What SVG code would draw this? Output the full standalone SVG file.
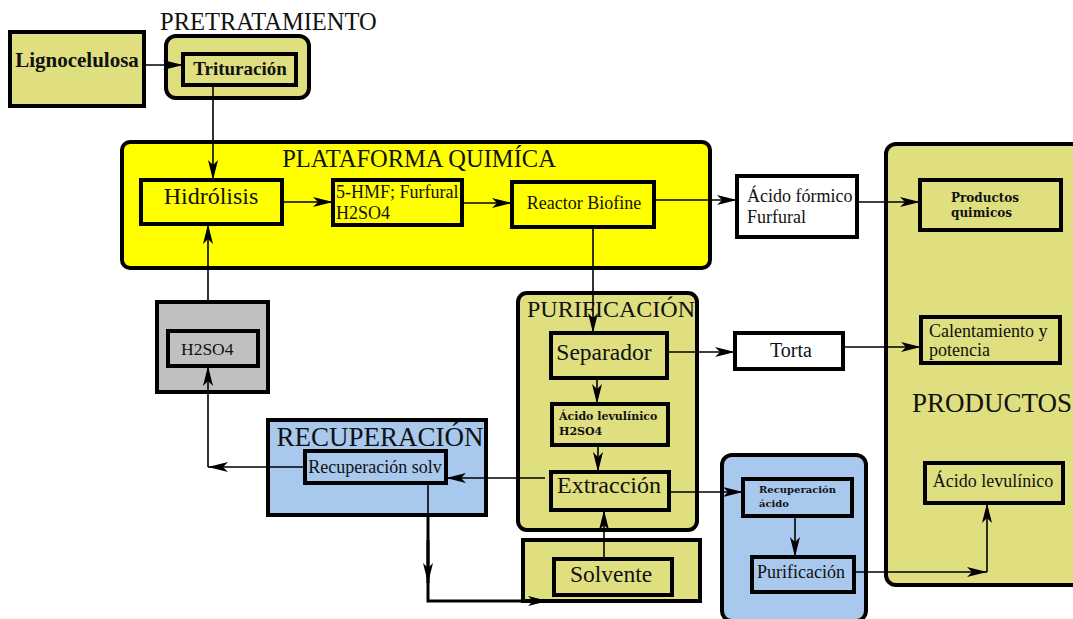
<svg xmlns="http://www.w3.org/2000/svg" width="1073" height="619" viewBox="0 0 1073 619">
<defs>
<marker id="ah" viewBox="0 0 20 10" refX="20" refY="5" markerWidth="20" markerHeight="10" markerUnits="userSpaceOnUse" orient="auto">
<path d="M0,0 L20,5 L0,10 L5,5 Z" fill="#000"/>
</marker>
</defs>
<style>
text{font-family:"Liberation Serif","DejaVu Serif",serif;fill:#111}
.g{fill:#dfdf80;stroke:#000;stroke-width:4}
.y{fill:#ffff00;stroke:#000;stroke-width:4}
.b{fill:#a8c8ee;stroke:#000;stroke-width:4}
.gr{fill:#c0c0c0;stroke:#000;stroke-width:4}
.w{fill:#fff;stroke:#000;stroke-width:4}
.c{fill:none;stroke:#000;stroke-width:1.6}
.bd{font-weight:bold}
.dv{font-family:"DejaVu Serif","Liberation Serif",serif;font-weight:bold}
</style>
<rect width="1073" height="619" fill="#fff"/>

<g id="lignocelulosa"><rect class="g" x="10" y="32" width="134" height="74"/><text x="77" y="67" font-size="21" class="bd" text-anchor="middle">Lignocelulosa</text></g>

<g id="pretratamiento"><text x="160" y="30" font-size="24.5">PRETRATAMIENTO</text><rect class="g" x="166" y="36" width="143" height="62" rx="10"/></g>
<g id="trituracion"><rect class="g" x="183" y="54" width="113" height="31"/><text x="240" y="75" font-size="19" class="bd" text-anchor="middle">Trituración</text></g>

<g id="plataforma"><rect class="y" x="122" y="142" width="588" height="126" rx="8"/><text x="419" y="167" font-size="24.5" text-anchor="middle">PLATAFORMA QUIMÍCA</text></g>
<g id="hidrolisis"><rect class="y" x="141" y="180" width="141" height="44"/><text x="211" y="204" font-size="24" text-anchor="middle">Hidrólisis</text></g>
<g id="hmf"><rect class="y" x="333" y="180" width="129" height="45"/><text x="336" y="198" font-size="18">5-HMF; Furfural</text><text x="336" y="219" font-size="18">H2SO4</text></g>
<g id="reactor"><rect class="y" x="512" y="182" width="142" height="45"/><text x="584" y="209" font-size="18" text-anchor="middle">Reactor Biofine</text></g>

<g id="acidoformico"><rect class="w" x="737" y="176" width="120" height="61"/><text x="747" y="202" font-size="18">Ácido fórmico</text><text x="747" y="223" font-size="18">Furfural</text></g>

<g id="productos"><rect class="g" x="886" y="144" width="200" height="441" rx="10"/><text x="912" y="412" font-size="27">PRODUCTOS</text></g>
<g id="productosquimicos"><rect class="g" x="920" y="180" width="141" height="50"/><text x="951" y="202" font-size="12" class="dv">Productos</text><text x="951" y="217" font-size="12" class="dv">quimicos</text></g>
<g id="calentamiento"><rect class="g" x="921" y="317" width="139" height="46"/><text x="929" y="337" font-size="18">Calentamiento y</text><text x="929" y="356" font-size="18">potencia</text></g>
<g id="acidolevulinico2"><rect class="g" x="925" y="463" width="138" height="40"/><text x="993" y="487" font-size="18" text-anchor="middle">Ácido levulínico</text></g>

<g id="torta"><rect class="w" x="735" y="333" width="108" height="36"/><text x="791" y="357" font-size="20" text-anchor="middle">Torta</text></g>

<g id="h2so4"><rect class="gr" x="157" y="302" width="111" height="90"/><rect class="gr" x="168" y="331" width="90" height="35"/><text x="181" y="355" font-size="17.5">H2SO4</text></g>

<g id="recuperacion"><rect class="b" x="268" y="420" width="218" height="95"/><text x="380" y="446" font-size="27" text-anchor="middle">RECUPERACIÓN</text></g>
<g id="recuperacionsolv"><rect class="b" x="305" y="451" width="141" height="32"/><text x="375" y="473" font-size="18" text-anchor="middle">Recuperación solv</text></g>

<g id="purificacionbox"><rect class="g" x="518" y="293" width="179" height="237" rx="9"/><text x="611" y="317" font-size="24" text-anchor="middle">PURIFICACIÓN</text></g>
<g id="separador"><rect class="g" x="551" y="333" width="116" height="45"/><text x="604" y="360" font-size="23.5" text-anchor="middle">Separador</text></g>
<g id="acidolevulinico"><rect class="g" x="552" y="404" width="116" height="41"/><text x="559" y="420" font-size="11" class="dv">Ácido levulínico</text><text x="559" y="435" font-size="11" class="dv">H2SO4</text></g>
<g id="extraccion"><rect class="g" x="551" y="472" width="118" height="38"/><text x="609" y="493" font-size="24" text-anchor="middle">Extracción</text></g>

<g id="solvente"><rect class="g" x="523" y="540" width="177" height="61"/><rect class="g" x="554" y="559" width="118" height="36"/><text x="611" y="582" font-size="23.5" text-anchor="middle">Solvente</text></g>

<g id="acidbox"><rect class="b" x="722" y="455" width="144" height="166" rx="10"/></g>
<g id="recuperacionacido"><rect class="b" x="743" y="479" width="109" height="37"/><text x="759" y="493" font-size="10" class="dv">Recuperación</text><text x="759" y="507" font-size="10" class="dv">ácido</text></g>
<g id="purificacion"><rect class="b" x="752" y="557" width="102" height="35"/><text x="801" y="578" font-size="18" text-anchor="middle">Purificación</text></g>

<g id="connectors">
<path class="c" d="M144,65 H183" marker-end="url(#ah)"/>
<path class="c" d="M213,85 V180" marker-end="url(#ah)"/>
<path class="c" d="M282,202 H333" marker-end="url(#ah)"/>
<path class="c" d="M462,203 H512" marker-end="url(#ah)"/>
<path class="c" d="M654,200 H737" marker-end="url(#ah)"/>
<path class="c" d="M857,202 H920" marker-end="url(#ah)"/>
<path class="c" d="M593,227 V333" marker-end="url(#ah)"/>
<path class="c" d="M667,352 H735" marker-end="url(#ah)"/>
<path class="c" d="M843,347 H921" marker-end="url(#ah)"/>
<path class="c" d="M597,378 V404" marker-end="url(#ah)"/>
<path class="c" d="M598,445 V472" marker-end="url(#ah)"/>
<path class="c" d="M604,559 V510" marker-end="url(#ah)"/>
<path class="c" d="M669,492 H743" marker-end="url(#ah)"/>
<path class="c" d="M795,516 V557" marker-end="url(#ah)"/>
<path class="c" d="M854,572 H987" marker-end="url(#ah)"/>
<path class="c" d="M987,572 V503" marker-end="url(#ah)"/>
<path class="c" d="M545,478 H446" marker-end="url(#ah)"/>
<path class="c" d="M305,467 H208" marker-end="url(#ah)"/>
<path class="c" d="M208,467 V366" marker-end="url(#ah)"/>
<path class="c" d="M208,302 V224" marker-end="url(#ah)"/>
<path class="c" d="M428,483 V515"/>
<path fill="none" stroke="#000" stroke-width="3" d="M428,515 V601 H548" marker-end="url(#ah)"/>
<path fill="none" stroke="#000" stroke-width="3" d="M428,540 V583" marker-end="url(#ah)"/>
</g>
</svg>
